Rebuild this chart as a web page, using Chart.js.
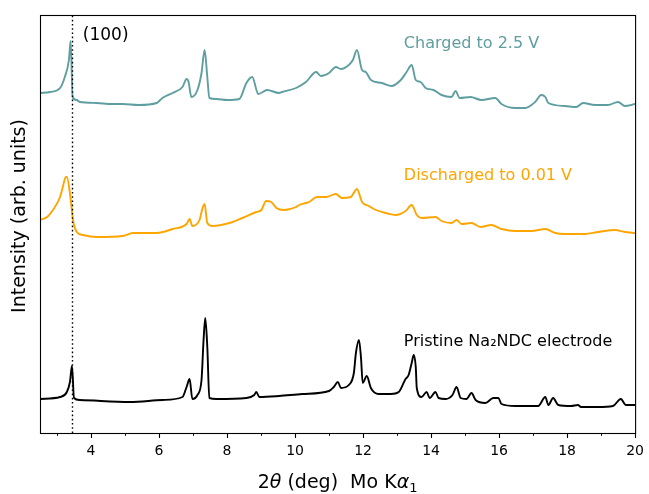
<!DOCTYPE html>
<html>
<head>
<meta charset="utf-8">
<script src="https://cdn.jsdelivr.net/npm/chart.js@4/dist/chart.umd.min.js"></script>
<style>
  html, body { margin: 0; padding: 0; background: #fff; }
  #wrap { width: 649px; height: 494px; }
</style>
</head>
<body>
<div id="wrap"><canvas id="c" width="649" height="494"></canvas></div>
<script>
// Diffraction patterns (2θ in degrees, intensity in arbitrary units, traces stacked with offsets)
const chargedTwoTheta = [2.50, 2.80, 3.09, 3.23, 3.35, 3.40, 3.46, 3.58, 3.67, 4.17, 4.60, 4.93, 5.40, 5.93, 6.10, 6.40, 6.69, 6.81, 6.87, 6.95, 7.13, 7.25, 7.34, 7.42, 7.48, 7.69, 8.00, 8.36, 8.57, 8.74, 8.92, 9.18, 9.53, 9.62, 10.03, 10.32, 10.62, 10.76, 11.00, 11.20, 11.35, 11.58, 11.70, 11.82, 11.97, 12.08, 12.23, 12.55, 12.84, 13.11, 13.28, 13.43, 13.55, 13.69, 13.84, 14.07, 14.31, 14.60, 14.72, 14.84, 15.16, 15.48, 15.89, 16.07, 16.48, 16.77, 17.06, 17.24, 17.36, 17.45, 17.94, 18.27, 18.47, 18.82, 19.20, 19.50, 19.70, 20.00];
const chargedIntensity = [339, 340, 344, 355, 372, 391, 335, 332, 330, 329, 328, 328, 327, 329, 334, 339, 345, 353, 350, 335, 342, 359, 382, 355, 334, 333, 332, 333, 349, 355, 338, 342, 339, 340, 344, 350, 360, 356, 359, 365, 363, 367, 372, 382, 362, 360, 352, 349, 346, 352, 360, 367, 352, 350, 344, 342, 337, 335, 341, 334, 335, 332, 334, 328, 324, 324, 330, 337, 335, 329, 326, 325, 329, 327, 327, 330, 326, 328];

const dischargedTwoTheta = [2.50, 2.71, 2.88, 3.09, 3.17, 3.26, 3.29, 3.38, 3.47, 3.58, 3.76, 4.17, 4.93, 5.23, 5.93, 6.40, 6.81, 6.90, 6.98, 7.19, 7.28, 7.34, 7.42, 7.57, 8.07, 8.45, 8.86, 9.01, 9.15, 9.30, 9.45, 9.68, 10.03, 10.12, 10.32, 10.41, 10.65, 10.91, 11.20, 11.38, 11.64, 11.82, 11.97, 12.17, 12.38, 12.67, 12.96, 13.25, 13.43, 13.58, 13.72, 14.13, 14.31, 14.60, 14.75, 14.90, 15.19, 15.45, 15.77, 16.07, 16.48, 16.95, 17.36, 17.65, 17.94, 18.53, 18.91, 19.41, 19.70, 20.00];
const dischargedIntensity = [212, 215, 222, 235, 245, 255, 255, 239, 212, 200, 197, 195, 196, 199, 199, 203, 208, 213, 206, 212, 224, 228, 209, 206, 209, 214, 220, 222, 231, 230, 224, 222, 225, 227, 229, 230, 235, 235, 238, 234, 235, 243, 230, 226, 222, 219, 217, 221, 227, 217, 214, 215, 211, 209, 212, 208, 209, 205, 207, 203, 201, 201, 203, 199, 198, 198, 200, 202, 200, 199];

const pristineTwoTheta = [2.50, 3.09, 3.29, 3.38, 3.44, 3.50, 3.67, 5.14, 6.10, 6.69, 6.81, 6.90, 6.98, 7.13, 7.25, 7.31, 7.36, 7.42, 7.48, 7.69, 8.57, 8.80, 8.86, 8.95, 9.53, 10.21, 11.00, 11.14, 11.26, 11.35, 11.58, 11.73, 11.79, 11.88, 11.94, 11.99, 12.11, 12.23, 12.46, 12.82, 13.05, 13.25, 13.34, 13.43, 13.49, 13.55, 13.58, 13.72, 13.87, 13.96, 14.13, 14.22, 14.43, 14.63, 14.75, 14.87, 15.04, 15.19, 15.31, 15.60, 15.83, 15.98, 16.07, 16.48, 16.77, 17.15, 17.36, 17.45, 17.59, 17.74, 18.12, 18.32, 18.41, 18.91, 19.35, 19.58, 19.73, 20.00];
const pristineIntensity = [33, 35, 40, 50, 66, 34, 32, 30, 32, 35, 45, 53, 33, 37, 52, 92, 114, 85, 34, 33, 34, 37, 40, 35, 36, 38, 41, 45, 50, 44, 47, 59, 79, 92, 74, 49, 56, 44, 38, 38, 40, 53, 57, 69, 77, 65, 44, 35, 40, 34, 40, 34, 33, 37, 45, 34, 33, 39, 32, 29, 34, 34, 28, 26, 26, 26, 35, 27, 34, 27, 26, 27, 25, 25, 26, 33, 27, 27];

const majorTicks = [4, 6, 8, 10, 12, 14, 16, 18, 20];
const minorTicks = [3, 5, 7, 9, 11, 13, 15, 17, 19];
const refLine100 = 3.45;

const seriesLabels = ['Charged to 2.5 V', 'Discharged to 0.01 V', 'Pristine Na₂NDC electrode'];
const seriesColors = ['#5F9EA0', '#FFA500', '#000000'];
const labelAnchors = [[13.20, 388], [13.20, 256], [13.20, 90]];
const peakLabel = '(100)';
const peakLabelAnchor = [3.76, 396];

const FONT = "'DejaVu Sans', sans-serif";

function toPoints(xs, ys) { return xs.map((x, i) => ({ x, y: ys[i] })); }

const decor = {
  id: 'decor',
  afterDatasetsDraw(chart) {
    const { ctx, chartArea: a, scales: { x, y } } = chart;
    ctx.save();
    // dotted reference at the (100) reflection
    ctx.strokeStyle = '#000';
    ctx.lineWidth = 1.4;
    ctx.setLineDash([1.6, 2.6]);
    const xr = Math.round(x.getPixelForValue(refLine100)) + 0.5;
    ctx.beginPath(); ctx.moveTo(xr, a.bottom); ctx.lineTo(xr, a.top); ctx.stroke();
    ctx.setLineDash([]);

    // frame
    ctx.lineWidth = 1.1;
    ctx.strokeStyle = '#000';
    ctx.strokeRect(a.left + 0.5, a.top + 0.5, a.right - a.left, a.bottom - a.top);

    // minor ticks
    ctx.lineWidth = 0.9;
    minorTicks.forEach(v => {
      const px = Math.round(x.getPixelForValue(v)) + 0.5;
      ctx.beginPath(); ctx.moveTo(px, a.bottom); ctx.lineTo(px, a.bottom + 3); ctx.stroke();
    });

    // trace labels
    ctx.font = '16px ' + FONT;
    ctx.textAlign = 'left';
    ctx.textBaseline = 'middle';
    seriesLabels.forEach((t, i) => {
      ctx.fillStyle = seriesColors[i];
      ctx.fillText(t, x.getPixelForValue(labelAnchors[i][0]), y.getPixelForValue(labelAnchors[i][1]));
    });
    ctx.fillStyle = '#000';
    ctx.font = '17px ' + FONT;
    ctx.fillText(peakLabel, x.getPixelForValue(peakLabelAnchor[0]), y.getPixelForValue(peakLabelAnchor[1]));

    // y-axis title
    ctx.save();
    ctx.translate(20, 216);
    ctx.rotate(-Math.PI / 2);
    ctx.font = '19px ' + FONT;
    ctx.textAlign = 'center';
    ctx.textBaseline = 'middle';
    ctx.fillText('Intensity (arb. units)', 0, 0);
    ctx.restore();

    // x-axis title with italic symbols and subscript
    const parts = [
      { t: '2', f: '19px ' + FONT, dy: 0 },
      { t: 'θ', f: 'italic 19px ' + FONT, dy: 0 },
      { t: ' (deg)  Mo K', f: '19px ' + FONT, dy: 0 },
      { t: 'α', f: 'italic 19px ' + FONT, dy: 0 },
      { t: '1', f: '13px ' + FONT, dy: 4 }
    ];
    let total = 0;
    parts.forEach(p => { ctx.font = p.f; p.w = ctx.measureText(p.t).width; total += p.w; });
    let cx = (a.left + a.right) / 2 - total / 2;
    const base = 488;
    ctx.textAlign = 'left';
    ctx.textBaseline = 'alphabetic';
    parts.forEach(p => { ctx.font = p.f; ctx.fillText(p.t, cx, base + p.dy); cx += p.w; });
    ctx.restore();
  }
};

const ds = (label, xs, ys, color) => ({
  label, data: toPoints(xs, ys), borderColor: color, backgroundColor: color,
  borderWidth: 1.9, pointRadius: 0, showLine: true, fill: false,
  cubicInterpolationMode: 'monotone'
});

new Chart(document.getElementById('c'), {
  type: 'scatter',
  data: {
    datasets: [
      ds(seriesLabels[0], chargedTwoTheta, chargedIntensity, seriesColors[0]),
      ds(seriesLabels[1], dischargedTwoTheta, dischargedIntensity, seriesColors[1]),
      ds(seriesLabels[2], pristineTwoTheta, pristineIntensity, seriesColors[2])
    ]
  },
  options: {
    responsive: false,
    devicePixelRatio: 1,
    animation: false,
    layout: { padding: { left: 40, right: 12, top: 15, bottom: 0 } },
    plugins: { legend: { display: false }, tooltip: { enabled: false } },
    scales: {
      x: {
        type: 'linear', min: 2.5, max: 20,
        border: { display: false },
        grid: {
          drawOnChartArea: false, drawTicks: true, tickLength: 5, tickWidth: 1.1,
          tickColor: c => (majorTicks.includes(c.tick && c.tick.value) ? '#000' : 'rgba(0,0,0,0)')
        },
        afterBuildTicks: s => { s.ticks = [...minorTicks, ...majorTicks].sort((a, b) => a - b).map(v => ({ value: v })); },
        ticks: {
          autoSkip: false, maxRotation: 0, padding: 5, color: '#000',
          font: { family: FONT, size: 14 },
          callback: v => (majorTicks.includes(v) ? String(v) : '')
        },
        afterFit: s => { s.height = 61; }
      },
      y: { display: false, min: -1, max: 417 }
    }
  },
  plugins: [decor]
});
</script>
</body>
</html>
